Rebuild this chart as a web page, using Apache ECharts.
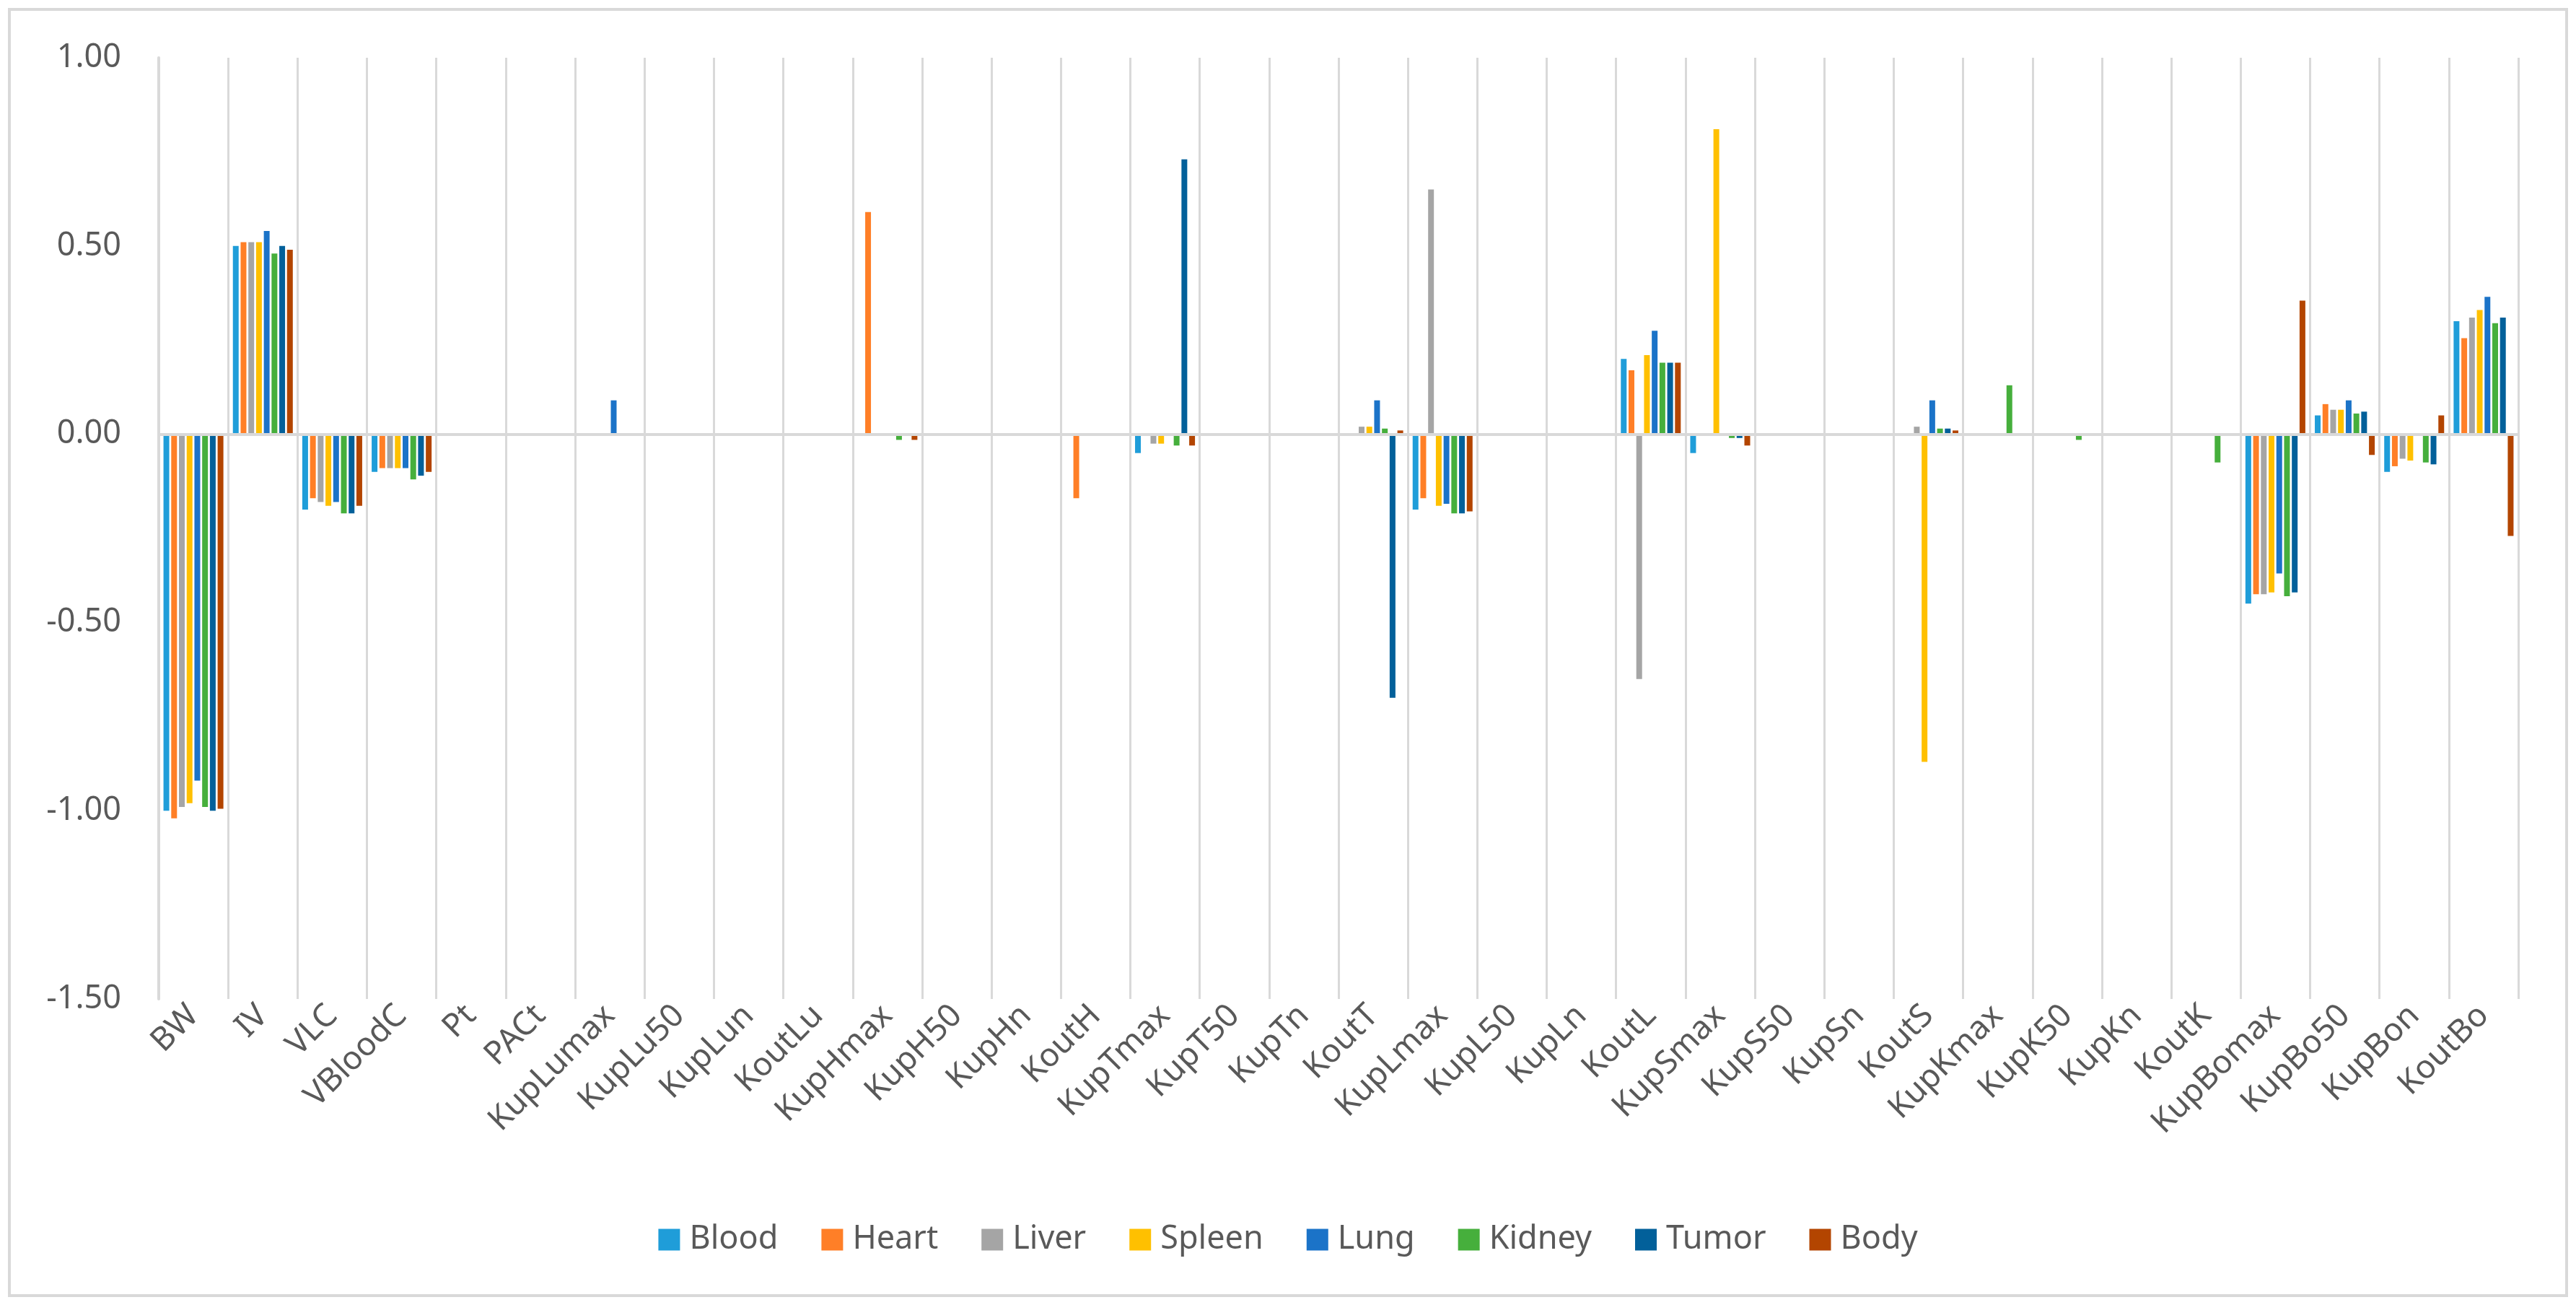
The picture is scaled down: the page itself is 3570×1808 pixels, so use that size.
<!DOCTYPE html>
<html>
<head>
<meta charset="utf-8">
<script src="https://cdn.jsdelivr.net/npm/echarts@6/dist/echarts.min.js"></script>
<style>
html,body{margin:0;padding:0;background:#fff;}
#chart{width:3570px;height:1808px;}
</style>
</head>
<body>
<div id="chart"></div>
<script>
const categories = ["BW","IV","VLC","VBloodC","Pt","PACt","KupLumax","KupLu50","KupLun","KoutLu","KupHmax","KupH50","KupHn","KoutH","KupTmax","KupT50","KupTn","KoutT","KupLmax","KupL50","KupLn","KoutL","KupSmax","KupS50","KupSn","KoutS","KupKmax","KupK50","KupKn","KoutK","KupBomax","KupBo50","KupBon","KoutBo"];
const seriesNames = ["Blood","Heart","Liver","Spleen","Lung","Kidney","Tumor","Body"];
const seriesColors = ["#1F9DD9","#FF7F27","#A5A5A5","#FFC000","#1B73C8","#46AF3C","#02609A","#B34500"];
const yTicks = [-1.5, -1.0, -0.5, 0, 0.5, 1.0];

const blood  = [-1.00,0.50,-0.20,-0.10,0,0,0,0,0,0,0,0,0,0,-0.05,0,0,0,-0.20,0,0,0.20,-0.05,0,0,0,0,0,0,0,-0.45,0.05,-0.10,0.30];
const heart  = [-1.02,0.51,-0.17,-0.09,0,0,0,0,0,0,0.59,0,0,-0.17,0,0,0,0,-0.17,0,0,0.17,0,0,0,0,0,0,0,0,-0.425,0.08,-0.085,0.255];
const liver  = [-0.99,0.51,-0.18,-0.09,0,0,0,0,0,0,0,0,0,0,-0.025,0,0,0.02,0.65,0,0,-0.65,0,0,0,0.02,0,0,0,0,-0.425,0.065,-0.065,0.31];
const spleen = [-0.98,0.51,-0.19,-0.09,0,0,0,0,0,0,0,0,0,0,-0.025,0,0,0.02,-0.19,0,0,0.21,0.81,0,0,-0.87,0,0,0,0,-0.42,0.065,-0.07,0.33];
const lung   = [-0.92,0.54,-0.18,-0.09,0,0,0.09,0,0,0,0,0,0,0,0,0,0,0.09,-0.185,0,0,0.275,0,0,0,0.09,0,0,0,0,-0.37,0.09,0,0.365];
const kidney = [-0.99,0.48,-0.21,-0.12,0,0,0,0,0,0,-0.015,0,0,0,-0.03,0,0,0.015,-0.21,0,0,0.19,-0.01,0,0,0.015,0.13,-0.015,0,-0.075,-0.43,0.055,-0.075,0.295];
const tumor  = [-1.00,0.50,-0.21,-0.11,0,0,0,0,0,0,0,0,0,0,0.73,0,0,-0.70,-0.21,0,0,0.19,-0.01,0,0,0.015,0,0,0,0,-0.42,0.06,-0.08,0.31];
const body   = [-0.995,0.49,-0.19,-0.10,0,0,0,0,0,0,-0.015,0,0,0,-0.03,0,0,0.01,-0.205,0,0,0.19,-0.03,0,0,0.01,0,0,0,0,0.355,-0.055,0.05,-0.27];

const allData = [blood, heart, liver, spleen, lung, kidney, tumor, body];
const FONT = '"Noto Sans", "Open Sans", sans-serif';
const TXT = '#595959';
const GRID = '#D9D9D9';

const series = seriesNames.map((name, i) => {
  const s = {
    name: name,
    type: 'bar',
    data: allData[i],
    barWidth: 8,
    barGap: '34%',
    itemStyle: { color: seriesColors[i] },
    emphasis: { disabled: true },
    animation: false
  };
  if (i === 0) {
    s.markLine = {
      silent: true,
      symbol: 'none',
      label: { show: false },
      lineStyle: { color: GRID, width: 4, type: 'solid' },
      data: [{ yAxis: 0 }],
      animation: false
    };
  }
  return s;
});

const chart = echarts.init(document.getElementById('chart'), null, { renderer: 'canvas' });
chart.setOption({
  backgroundColor: '#ffffff',
  animation: false,
  textStyle: { fontFamily: FONT },
  graphic: [{
    type: 'rect',
    shape: { x: 13, y: 13, width: 3544, height: 1782 },
    style: { fill: 'none', stroke: GRID, lineWidth: 4 },
    silent: true
  }],
  grid: { left: 220, right: 80, top: 80, bottom: 424, containLabel: false },
  legend: {
    data: seriesNames,
    top: 1690,
    left: 'center',
    itemWidth: 30,
    itemHeight: 30,
    itemGap: 60,
    icon: 'rect',
    textStyle: { fontSize: 45, color: TXT, fontFamily: FONT, padding: [0, 0, 0, 8] }
  },
  xAxis: {
    type: 'category',
    data: categories,
    boundaryGap: true,
    axisLine: { show: false, onZero: false },
    axisTick: { show: false },
    splitLine: { show: true, interval: 0, lineStyle: { color: GRID, width: 3 } },
    axisLabel: {
      interval: 0,
      rotate: 45,
      margin: 16,
      fontSize: 45,
      color: TXT,
      fontFamily: FONT
    }
  },
  yAxis: {
    type: 'value',
    min: yTicks[0],
    max: yTicks[yTicks.length - 1],
    interval: 0.5,
    axisLine: { show: true, lineStyle: { color: GRID, width: 4 } },
    axisTick: { show: false },
    splitLine: { show: false },
    axisLabel: {
      margin: 52,
      fontSize: 45,
      color: TXT,
      fontFamily: FONT,
      formatter: v => v.toFixed(2)
    }
  },
  series: series
});
</script>
</body>
</html>
